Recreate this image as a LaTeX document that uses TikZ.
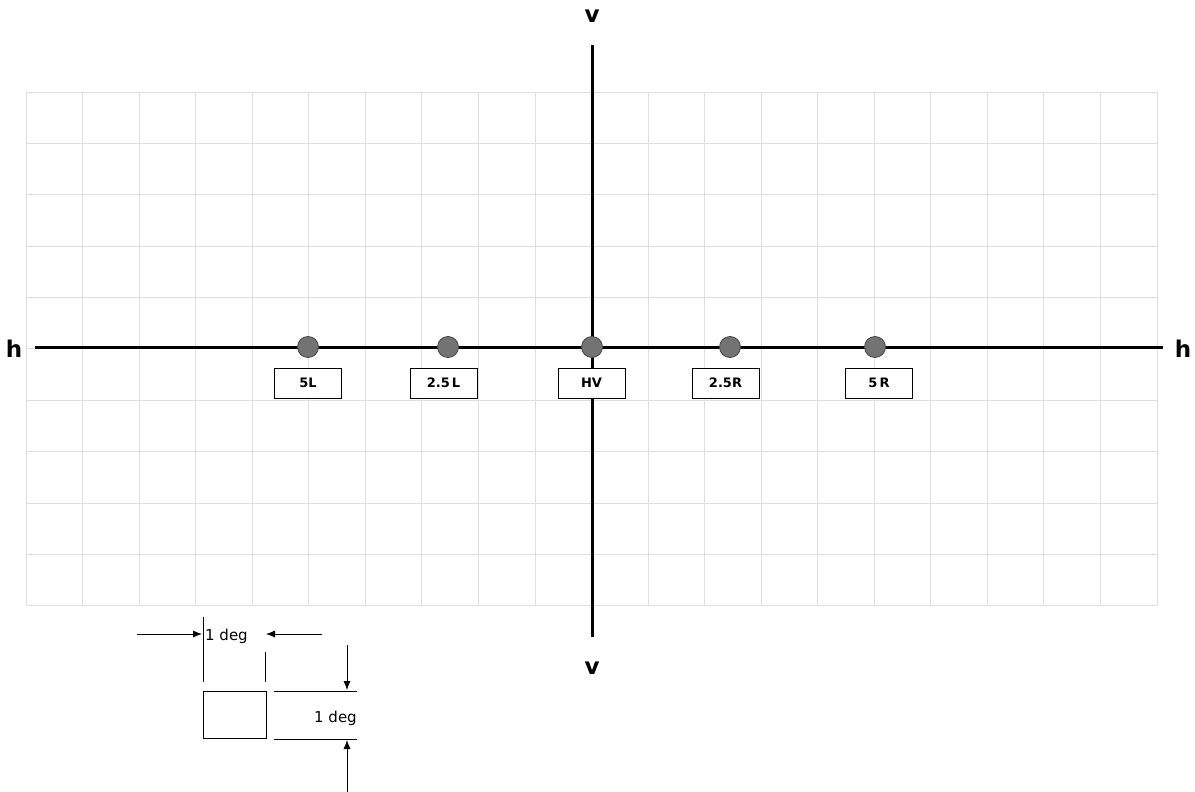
\documentclass[tikz,border=0pt]{standalone}
\usepackage{fontspec}
\setmainfont{DejaVu Sans}
\usetikzlibrary{arrows.meta}
\definecolor{gridgray}{RGB}{222,222,222}
\definecolor{dotgray}{RGB}{115,115,115}
\definecolor{dotedge}{RGB}{70,70,70}
\begin{document}
\begin{tikzpicture}[x=1pt,y=-1pt,
  gridline/.style={draw=gridgray, line width=0.9pt},
  axisline/.style={line width=3pt},
  dotnode/.style={circle, fill=dotgray, draw=dotedge, line width=0.8pt, minimum size=21pt, inner sep=0pt},
  lblbox/.style={draw, fill=white, line width=0.8pt, minimum width=67pt, minimum height=30pt, inner sep=0pt, font=\bfseries\fontsize{13}{13}\selectfont},
  axlbl/.style={font=\bfseries\fontsize{23}{23}\selectfont, inner sep=0pt},
  dimline/.style={line width=0.8pt},
  dimarrow/.style={line width=0.8pt, -{Latex[length=9pt,width=7pt]}},
  degtxt/.style={font=\fontsize{15}{15}\selectfont, inner sep=0pt, anchor=west}
]
\useasboundingbox (0,0) rectangle (1195,792);
% grid
\foreach \i in {0,...,20} {
  \draw[gridline] ({26+\i*56.55},92) -- ({26+\i*56.55},605.7);
}
\foreach \j in {0,...,10} {
  \draw[gridline] (26,{92+\j*51.37}) -- (1157,{92+\j*51.37});
}
% axes
\coordinate (hL) at (35,347);
\coordinate (hR) at (1163,347);
\coordinate (vT) at (592,45);
\coordinate (vB) at (592,637);
\draw[axisline] (hL) -- (hR);
\draw[axisline] (vT) -- (vB);
\node[axlbl] (vtop) at (592,16) {v};
\node[axlbl] (vbot) at (592,668) {v};
\node[axlbl] (hleft) at (14,349) {h};
\node[axlbl] (hright) at (1183,349) {h};
% dots
\node[dotnode] (d5L) at (308,347) {};
\node[dotnode] (d25L) at (448,347) {};
\node[dotnode] (dHV) at (592,347) {};
\node[dotnode] (d25R) at (730,347) {};
\node[dotnode] (d5R) at (875,347) {};
% labels
\node[lblbox] (b5L) at (308,383) {5L};
\node[lblbox] (b25L) at (443.5,383) {2.5\,L};
\node[lblbox] (bHV) at (591.5,383) {HV};
\node[lblbox] (b25R) at (725.5,383) {2.5R};
\node[lblbox] (b5R) at (879,383) {5\,R};
% legend
\coordinate (la1) at (137,634);
\coordinate (la2) at (202,634);
\coordinate (ra1) at (322,634);
\coordinate (ra2) at (266,634);
\coordinate (vl1) at (203,617);
\coordinate (vl2) at (203,682);
\coordinate (vr1) at (265,652);
\coordinate (vr2) at (265,682);
\draw[dimarrow] (la1) -- (la2);
\draw[dimarrow] (ra1) -- (ra2);
\draw[dimline] (vl1) -- (vl2);
\draw[dimline] (vr1) -- (vr2);
\node[degtxt] (deg1) at (205,636) {1 deg};
\node[draw, line width=0.8pt, minimum width=63pt, minimum height=47pt, inner sep=0pt] (sq) at (234.5,714.5) {};
\coordinate (ht1) at (274,691);
\coordinate (ht2) at (357,691);
\coordinate (hb1) at (274,739);
\coordinate (hb2) at (357,739);
\draw[dimline] (ht1) -- (ht2);
\draw[dimline] (hb1) -- (hb2);
\coordinate (da1) at (347,645);
\coordinate (da2) at (347,690);
\coordinate (ua1) at (347,792);
\coordinate (ua2) at (347,740);
\draw[dimarrow] (da1) -- (da2);
\draw[dimarrow] (ua1) -- (ua2);
\node[degtxt] (deg2) at (314,718) {1 deg};
\end{tikzpicture}
\end{document}
